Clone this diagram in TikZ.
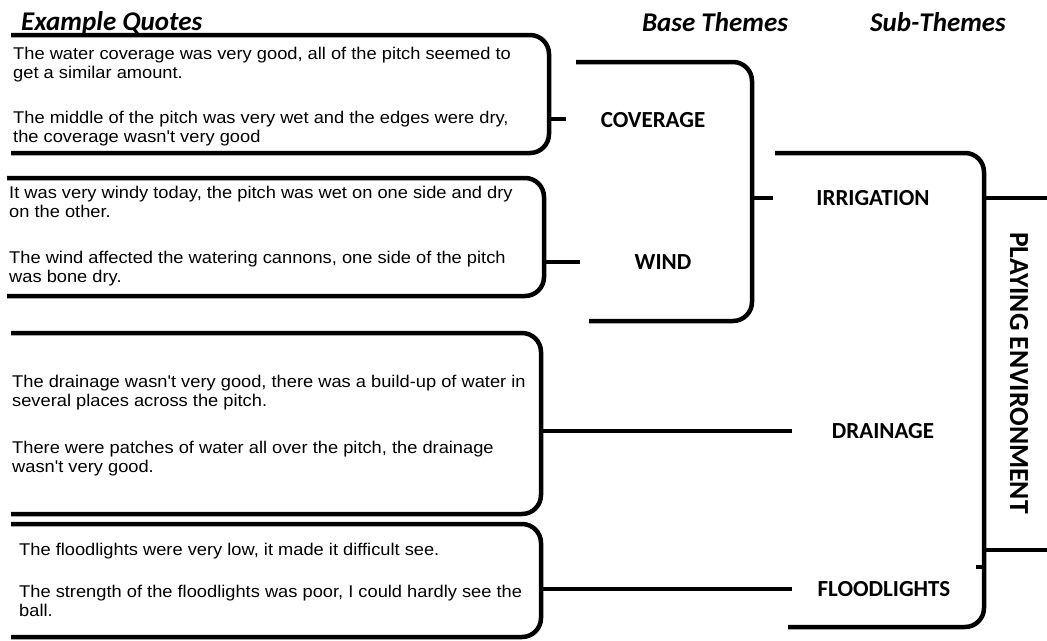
\documentclass[tikz,border=0pt]{standalone}
\usepackage{fontspec}
\setmainfont{Liberation Sans}
\newfontfamily\quotefont[FakeStretch=1.075]{Liberation Sans}
\newfontfamily\labelfont{Carlito}
\begin{document}
\begin{tikzpicture}[x=1pt,y=-1pt,
  bracket/.style={line width=4.5pt, rounded corners=19pt},
  tick/.style={line width=4.5pt},
  quote/.style={anchor=base west, inner sep=0pt, align=left,
    font=\quotefont\fontsize{17}{19}\selectfont},
  theme/.style={inner sep=0pt, font=\labelfont\bfseries\fontsize{23}{25}\selectfont},
  heading/.style={inner sep=0pt, anchor=base,
    font=\labelfont\bfseries\itshape\fontsize{27}{30}\selectfont}]
\useasboundingbox (0,0) rectangle (1047,640);

% column headings
\node[heading, anchor=base west] (hq) at (21,30) {Example Quotes};
\node[heading] (hb) at (715,31) {Base Themes};
\node[heading] (hs) at (938,31) {Sub-Themes};

% quotes (placed by the baseline of their last line)
\node[quote] (q1) at (13,142) {The water coverage was very good, all of the pitch seemed to\\get a similar amount.\\[26pt]The middle of the pitch was very wet and the edges were dry,\\the coverage wasn't very good};
\node[quote] (q2) at (9,282) {It was very windy today, the pitch was wet on one side and dry\\on the other.\\[27pt]The wind affected the watering cannons, one side of the pitch\\was bone dry.};
\node[quote] (q3) at (12,472) {The drainage wasn't very good, there was a build-up of water in\\several places across the pitch.\\[28pt]There were patches of water all over the pitch, the drainage\\wasn't very good.};
\node[quote] (q4) at (19,616) {The floodlights were very low, it made it difficult see.\\[23pt]The strength of the floodlights was poor, I could hardly see the\\ball.};

% theme labels
\node[theme] (cov) at (653,120) {COVERAGE};
\node[theme] (wind) at (663,262) {WIND};
\node[theme] (irr) at (873,198) {IRRIGATION};
\node[theme] (drn) at (883,431) {DRAINAGE};
\node[theme] (fld) at (884,589) {FLOODLIGHTS};
\node[inner sep=0pt, rotate=-90, font=\labelfont\bfseries\fontsize{27.6}{30}\selectfont] (pe) at (1019,373) {PLAYING ENVIRONMENT};

% quote brackets
\draw[bracket] (11,35) -- (549,35) -- (549,153) -- (11,153);
\draw[bracket] (7,178) -- (544,178) -- (544,296) -- (7,296);
\draw[bracket] (11,333) -- (541,333) -- (541,514) -- (11,514);
\draw[bracket] (11,524) -- (541,524) -- (541,637) -- (11,637);
\coordinate (t1) at (549,119);
\coordinate (t2) at (544,262);
\coordinate (t3) at (541,431);
\coordinate (t4) at (541,589);
\draw[tick] (t1) -- (566,119);
\draw[tick] (t2) -- (580,262);
\draw[tick] (t3) -- (drn.west -| 792,0);
\draw[tick] (t4) -- (fld.west -| 792,0);

% base-theme bracket
\draw[bracket] (576,62) -- (752,62) -- (752,321) -- (589,321);
\coordinate (t5) at (752,198);
\draw[tick] (t5) -- (773,198);

% sub-theme bracket
\draw[bracket] (775,153) -- (984,153) -- (984,627) -- (788,627);
\coordinate (t6) at (984,198);
\coordinate (t7) at (984,550);
\draw[tick] (t6) -- (1047,198);
\draw[tick] (t7) -- (1047,550);
\draw[tick] (976,567) -- (986,567);
\end{tikzpicture}
\end{document}
